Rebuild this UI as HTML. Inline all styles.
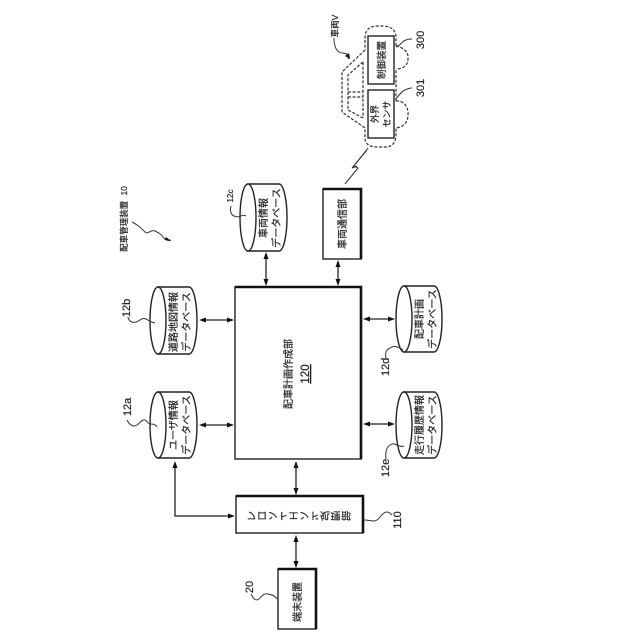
<!DOCTYPE html>
<html>
<head>
<meta charset="utf-8">
<style>
html,body{margin:0;padding:0;background:#fff}
svg{display:block}
text{font-family:"Liberation Sans","Noto Sans CJK JP",sans-serif;fill:#222;stroke:#222;stroke-width:.2}
.l{fill:none;stroke:#222;stroke-width:1.3}
.c{fill:none;stroke:#333;stroke-width:1}
.d{fill:none;stroke:#333;stroke-width:1.2;stroke-dasharray:3 1.6}
.b{fill:#fff;stroke:#222;stroke-width:1.4}
.t{stroke:#111;stroke-width:2.6;fill:none}
.a{fill:#111}
.j{font-size:10px;text-anchor:middle}
.n{font-size:10.5px;text-anchor:middle}
</style>
</head>
<body>
<svg width="640" height="640" viewBox="0 0 640 640" xmlns="http://www.w3.org/2000/svg">

<!-- main box -->
<rect class="b" x="235" y="287" width="126" height="172"/>
<path class="t" d="M235 287H361V459"/>
<text class="j" transform="translate(292,374) rotate(-90)">配車計画作成部</text>
<text class="n" transform="translate(309,374) rotate(-90)" style="font-size:11.500px;text-decoration:underline">120</text>

<!-- front end -->
<rect class="b" x="236" y="496" width="127" height="37"/>
<path class="t" d="M236 496H363V533"/>
<text class="j" transform="translate(299,515.500) scale(1,-1)" y="3.500" style="letter-spacing:.5px">フロントエンド処理部</text>

<!-- terminal -->
<rect class="b" x="278" y="569" width="38" height="60"/>
<path class="t" d="M278 569H316V629"/>
<text class="j" transform="translate(301,602) rotate(-90)">端末装置</text>

<!-- vehicle comm -->
<rect class="b" x="323" y="189" width="38" height="70"/>
<path class="t" d="M323 189H361V259"/>
<text class="j" transform="translate(346,224) rotate(-90)">車両通信部</text>

<!-- cylinders -->
<path class="b" d="M248 184H279A8 33.500 0 0 1 279 251H248Z"/>
<ellipse class="b" cx="248" cy="217.500" rx="8" ry="33.500"/>
<text class="j" transform="translate(267,218) rotate(-90)">車両情報</text>
<text class="j" transform="translate(280,218) rotate(-90)">データベース</text>

<path class="b" d="M158 287H189A8 33.500 0 0 1 189 354H158Z"/>
<ellipse class="b" cx="158" cy="320.500" rx="8" ry="33.500"/>
<text class="j" transform="translate(177,322) rotate(-90)">道路地図情報</text>
<text class="j" transform="translate(190,322) rotate(-90)">データベース</text>

<path class="b" d="M158 392H189A8 33 0 0 1 189 458H158Z"/>
<ellipse class="b" cx="158" cy="425" rx="8" ry="33"/>
<text class="j" transform="translate(177,425) rotate(-90)">ユーザ情報</text>
<text class="j" transform="translate(190,425) rotate(-90)">データベース</text>

<path class="b" d="M404 286H434A8 33 0 0 1 434 352H404Z"/>
<ellipse class="b" cx="404" cy="319" rx="8" ry="33"/>
<text class="j" transform="translate(423,319) rotate(-90)">配車計画</text>
<text class="j" transform="translate(436,319) rotate(-90)">データベース</text>

<path class="b" d="M404 392H434A8 33 0 0 1 434 458H404Z"/>
<ellipse class="b" cx="404" cy="425" rx="8" ry="33"/>
<text class="j" transform="translate(423,425) rotate(-90)">走行履歴情報</text>
<text class="j" transform="translate(436,425) rotate(-90)">データベース</text>

<!-- arrows -->
<path class="l" d="M266 254V284M338 262V284M296 463V493M296 537V566M201 320H232M201 425H232M365 319H393M365 424H393M175 463V516H233"/>
<path class="a" d="M266 252l-2.500 7h5zM266 286l-2.500 -7h5zM338 260l-2.500 7h5zM338 286l-2.500 -7h5zM296 461l-2.500 7h5zM296 495l-2.500 -7h5zM296 535l-2.500 7h5zM296 568l-2.500 -7h5z"/>
<path class="a" d="M199 320l7 -2.500v5zM234 320l-7 -2.500v5zM199 425l7 -2.500v5zM234 425l-7 -2.500v5zM363 319l7 -2.500v5zM395 319l-7 -2.500v5zM363 424l7 -2.500v5zM395 424l-7 -2.500v5z"/>
<path class="a" d="M175 461l-2.500 7h5zM235 516l-7 -2.500v5z"/>

<!-- leader labels -->
<text class="n" transform="translate(127,219) rotate(-90)" style="font-size:8.500px;word-spacing:3px">配車管理装置 10</text>
<path class="c" d="M132 222c6 3 9 6 13 10c3 3 6 -3 10 -1c4 2 6 3 9 7c2 2 4 3 7 2"/>
<path class="a" d="M171 241l-5 -4l-1.500 3z"/>

<text class="n" transform="translate(233,196) rotate(-90)" style="font-size:8px">12c</text>
<path class="c" d="M231 206c-1 4 -1 8 3 10c2 1 5 1 7 0c2 -1 3 -1 5 0"/>

<text class="n" transform="translate(130,308) rotate(-90)" style="font-size:11px">12b</text>
<path class="c" d="M128 317c1 5 5 6 8 5c4 -1 6 -5 10 -3c2 1 4 3 9 4"/>

<text class="n" transform="translate(131,407) rotate(-90)" style="font-size:11px">12a</text>
<path class="c" d="M127 420c3 6 7 7 10 5c3 -2 5 -6 8 -5c3 1 2 4 6 4c3 0 5 1 6 3"/>

<text class="n" transform="translate(389,367) rotate(-90)" style="font-size:11px">12d</text>
<path class="c" d="M386 359c-1 -7 0 -9 4 -11c3 -2 5 -2 7 -1c3 1 4 1 6 3"/>

<text class="n" transform="translate(389,468) rotate(-90)" style="font-size:11px">12e</text>
<path class="c" d="M386 459c-1 -8 1 -12 4 -14c3 -2 5 -1 7 0c2 1 5 2 7 1"/>

<text class="n" transform="translate(401,520) rotate(-90)" style="font-size:11px">110</text>
<path class="c" d="M392 515c-3 -3 -5 -4 -8 -2c-4 3 -6 8 -10 8c-3 0 -6 -1 -10 -1"/>

<text class="n" transform="translate(253,587) rotate(-90)" style="font-size:11px">20</text>
<path class="c" d="M251 594c3 6 5 7 8 5c3 -3 5 -6 9 -5c4 1 6 1 9 5"/>

<!-- vehicle -->
<text class="j" transform="translate(338,26) rotate(-90)" style="font-size:8.500px">車両V</text>
<path class="c" d="M334 38c0 8 2 12 5 14c3 2 7 0 9 3c1 2 1 3 0 4"/>
<path class="a" d="M350 59l-5 -3l4 -3z"/>

<path class="d" d="M365 50L342 72V112L365 128V138Q365 147 378 147H385Q396 147 396 134V128M396 101V69M396 46V38Q396 26 382 26H378Q365 26 365 38V50"/>
<path class="d" d="M396 46C402 47 409 51 408 59C408 66 402 69 396 69"/>
<path class="d" d="M396 101C402 100 409 106 408 115C408 124 402 127 396 128"/>
<path class="d" d="M363 62L348 75V110L363 118M363 62V118M348 92H363M348 97H363"/>
<rect class="b" x="368" y="36" width="26" height="48"/>
<rect class="b" x="368" y="90" width="26" height="48"/>
<text class="j" transform="translate(385,60) rotate(-90)" style="font-size:9.500px">制御装置</text>
<text class="j" transform="translate(378,114) rotate(-90)" style="font-size:9px">外界</text>
<text class="j" transform="translate(390,114) rotate(-90)" style="font-size:9px">センサ</text>
<text class="n" transform="translate(424,40) rotate(-90)" style="font-size:11px">300</text>
<text class="n" transform="translate(424,88) rotate(-90)" style="font-size:11px">301</text>
<path class="c" d="M396 47c4 -1 6 -6 10 -7c2 -1 4 -1 6 -1"/>
<path class="c" d="M396 99c3 -4 6 -8 9 -9c2 -1 5 -2 7 -2"/>

<!-- lightning -->
<path class="c" d="M368 148L354 166L358 168L345 184"/>
<path class="c" d="M367 150L352 168L357 166"/>
</svg>
</body>
</html>
